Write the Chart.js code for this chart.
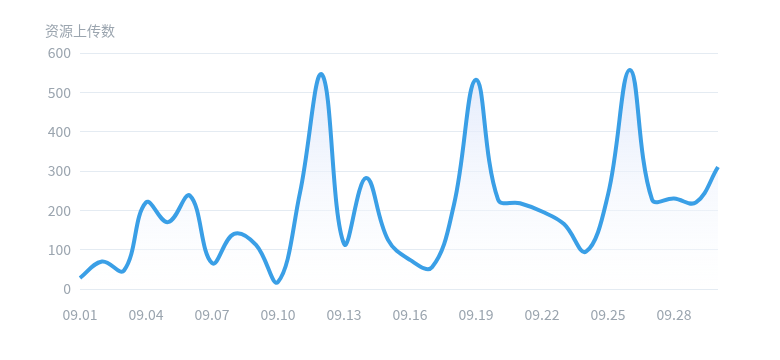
<!DOCTYPE html>
<html>
<head>
<meta charset="utf-8">
<script src="https://cdn.jsdelivr.net/npm/chart.js@4.4.1/dist/chart.umd.min.js"></script>
<style>
  html, body { margin: 0; padding: 0; background: #ffffff; }
  #wrap { position: relative; width: 780px; height: 360px; }
</style>
</head>
<body>
<div id="wrap"><canvas id="c" width="780" height="360"></canvas></div>
<script>
const chartTitle = '资源上传数';
const categories = ['09.01','09.02','09.03','09.04','09.05','09.06','09.07','09.08','09.09','09.10',
                    '09.11','09.12','09.13','09.14','09.15','09.16','09.17','09.18','09.19','09.20',
                    '09.21','09.22','09.23','09.24','09.25','09.26','09.27','09.28','09.29','09.30'];
const uploads = [28, 70, 47, 220, 170, 237, 66, 140, 112, 18,
                 245, 545, 115, 282, 125, 74, 55, 215, 532, 228,
                 218, 197, 165, 95, 240, 557, 228, 230, 220, 310];
const yTicks = [0, 100, 200, 300, 400, 500, 600];

const textColor = '#9ba5af';
const fontFamily = '"Noto Sans CJK SC", "Noto Sans", sans-serif';

const titlePlugin = {
  id: 'yName',
  afterDraw(chart) {
    const ctx = chart.ctx;
    ctx.save();
    ctx.font = '14px ' + fontFamily;
    ctx.fillStyle = textColor;
    ctx.textAlign = 'left';
    ctx.textBaseline = 'middle';
    ctx.fillText(chartTitle, 45, 31);
    ctx.restore();
  }
};

new Chart(document.getElementById('c'), {
  type: 'line',
  data: {
    labels: categories,
    datasets: [{
      label: chartTitle,
      data: uploads,
      borderColor: '#3a9fe6',
      borderWidth: 4,
      pointRadius: 0,
      pointHoverRadius: 0,
      tension: 0.4,
      fill: 'origin',
      backgroundColor(context) {
        const area = context.chart.chartArea;
        if (!area) return 'rgba(225,232,250,0.5)';
        const g = context.chart.ctx.createLinearGradient(0, area.top, 0, area.bottom);
        g.addColorStop(0, 'rgba(218,228,250,0.85)');
        g.addColorStop(1, 'rgba(255,255,255,0.3)');
        return g;
      }
    }]
  },
  options: {
    responsive: false,
    animation: false,
    devicePixelRatio: 1,
    layout: { padding: { left: 0, right: 62, top: 53, bottom: 0 } },
    plugins: {
      legend: { display: false },
      tooltip: { enabled: false },
      title: { display: false }
    },
    scales: {
      x: {
        offset: false,
        grid: { display: false, drawTicks: false },
        border: { display: false },
        ticks: {
          autoSkip: false,
          maxRotation: 0,
          padding: 17,
          color: textColor,
          font: { size: 14, family: fontFamily },
          callback(value, index) { return index % 3 === 0 ? categories[index] : ''; }
        },
        afterFit(scale) { scale.height = 71; }
      },
      y: {
        min: 0,
        max: 600,
        afterBuildTicks(scale) { scale.ticks = yTicks.map(v => ({ value: v })); },
        grid: { color: '#e4ebf2', lineWidth: 1, drawTicks: false },
        border: { display: false },
        ticks: {
          padding: 9,
          color: textColor,
          font: { size: 14, family: fontFamily }
        },
        afterFit(scale) { scale.width = 80; }
      }
    }
  },
  plugins: [titlePlugin]
});
</script>
</body>
</html>
